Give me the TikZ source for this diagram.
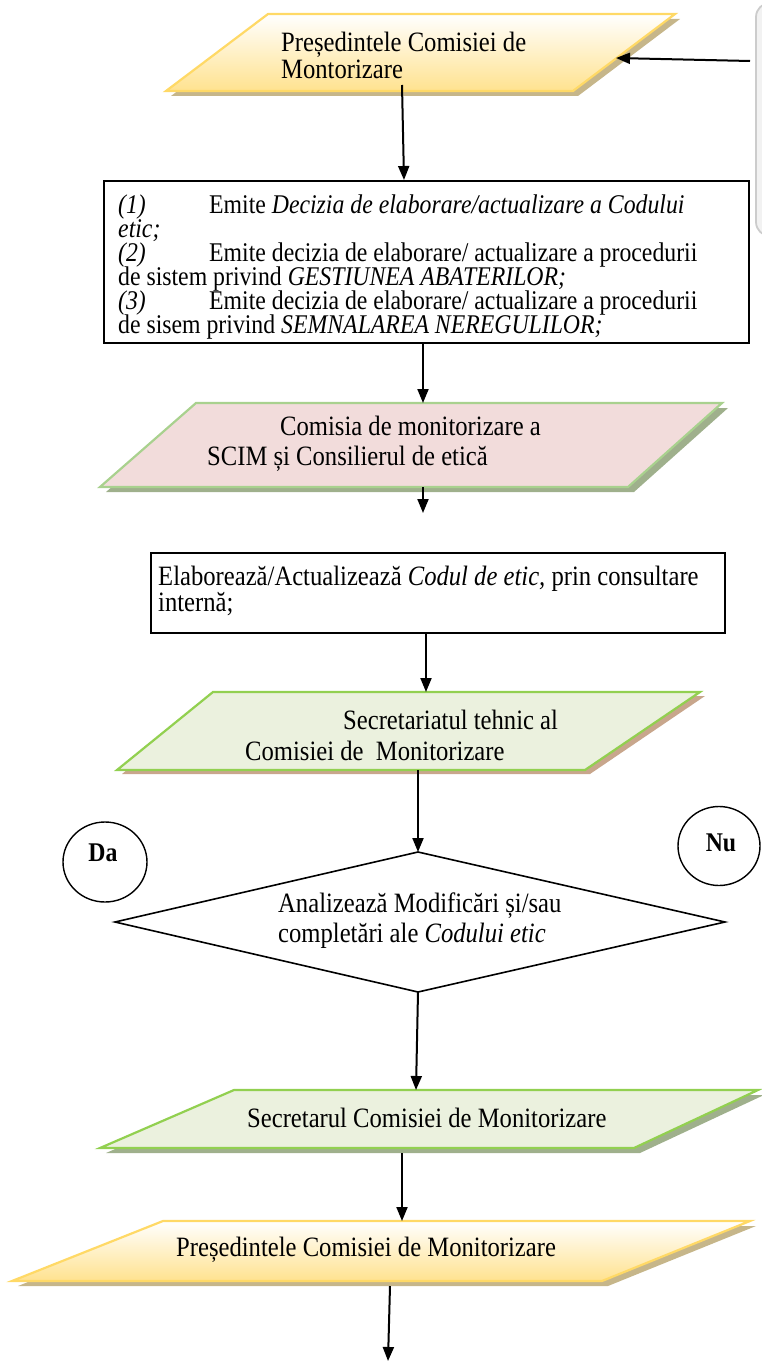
\documentclass[tikz,border=0pt]{standalone}
\usepackage{fontspec}
\setmainfont{Liberation Serif}[FakeStretch=0.88]
\usetikzlibrary{arrows.meta,shapes.geometric}
\definecolor{yelB}{HTML}{FFD966}
\definecolor{yelF}{HTML}{FFE28F}
\definecolor{yelS}{HTML}{C6B68A}
\definecolor{pinkF}{HTML}{F2DCDB}
\definecolor{grnB}{HTML}{92D050}
\definecolor{grnB2}{HTML}{A9D18E}
\definecolor{grnF}{HTML}{EBF1DE}
\definecolor{grnS}{HTML}{9FB08C}
\definecolor{brnS}{HTML}{C8A68C}
\newcommand\mytightls{\lineskiplimit=-100pt\relax\lineskip=0pt\relax}
\tikzset{
  para/.style={line width=2.2pt, line join=miter},
  arr/.style={line width=2pt, -{Triangle[length=14pt,width=11pt]}},
  txt/.style={font=\fontsize{28}{28}\selectfont\mytightls, align=left, inner sep=0pt},
  lead/.style={font=\fontsize{28}{#1}\selectfont\mytightls},
  boxst/.style={draw=black, line width=1.6pt, fill=white},
  circ/.style={draw=black, line width=1.4pt, ellipse, inner sep=0pt}
}
\begin{document}
\begin{tikzpicture}[x=1pt,y=-1pt]
\useasboundingbox (0,0) rectangle (762,1362);
% right gray frame
\begin{scope}
\clip (0,0) rectangle (762,1362);
\draw[gray!40, fill=gray!10, line width=1.8pt, rounded corners=14pt] (756,3) rectangle (830,236);
\end{scope}

% Shape 1 : yellow
\fill[yelS] (273,19) -- (680,19) -- (578,96) -- (171,96) -- cycle;
\path[para, draw=yelB, top color=white, bottom color=yelF] (268,14) -- (675,14) -- (573,91) -- (166,91) -- cycle;
\node[txt, lead=27, anchor=west] (t1) at (281,55) {Președintele Comisiei de\\Montorizare};
\coordinate (s1b) at (402,85);
\coordinate (s1r) at (616,58);
\coordinate (frm) at (750,61);

% Box 2
\node[boxst, minimum width=645pt, minimum height=162pt, anchor=north west] (b2) at (103,180) {};
\node[txt, font=\fontsize{27}{24}\selectfont\mytightls, anchor=west] (t2) at (118,267) {%
\makebox[91pt][l]{\textit{(1)}}Emite \textit{Decizia de elaborare/actualizare a Codului}\\
\textit{etic;}\\
\makebox[91pt][l]{\textit{(2)}}Emite decizia de elaborare/ actualizare a procedurii\\
de sistem privind \textit{GESTIUNEA ABATERILOR;}\\
\makebox[91pt][l]{\textit{(3)}}Emite decizia de elaborare/ actualizare a procedurii\\
de sisem privind \textit{SEMNALAREA NEREGULILOR;}};

% Shape 3 : pink
\fill[grnS] (202,408) -- (728,408) -- (634,492) -- (106,492) -- cycle;
\path[para, draw=grnB2, fill=pinkF] (196,403) -- (722,403) -- (628,487) -- (100,487) -- cycle;
\node[txt, lead=30, anchor=west] (t3) at (207,444) {\hspace*{73pt}Comisia de monitorizare a\\SCIM și Consilierul de etică};
\coordinate (s3t) at (423,403);
\coordinate (s3b) at (423,487);
\coordinate (s3e) at (423,513);

% Box 4
\node[boxst, minimum width=574pt, minimum height=80pt, anchor=north west] (b4) at (150,552) {};
\node[txt, lead=26, anchor=west] (t4) at (158,591) {Elaborează/Actualizează \textit{Codul de etic,} prin consultare\\internă;};

% Shape 5 : green
\fill[brnS] (218,696) -- (705,696) -- (590,774) -- (122,774) -- cycle;
\path[para, draw=grnB, fill=grnF] (213,692) -- (700,692) -- (585,770) -- (117,770) -- cycle;
\node[txt, lead=31, anchor=west] (t5) at (245,735) {\hspace*{98pt}Secretariatul tehnic al\\Comisiei de\ \ Monitorizare};
\coordinate (s5t) at (426,692);
\coordinate (s5b) at (418,770);

% Diamond
\path[draw=black, line width=1.6pt, fill=white] (418,852) -- (725,922) -- (418,992) -- (115,922) -- cycle;
\coordinate (dt) at (418,852);
\coordinate (db) at (418,992);
\node[txt, lead=30, anchor=west] (t6) at (278,921) {Analizează Modificări și/sau\\completări ale \textit{Codului etic}};

% Da / Nu
\node[circ, minimum width=84pt, minimum height=80pt] (da) at (105,862) {};
\node[txt, font=\fontsize{27}{27}\selectfont\bfseries] (dat) at (103,853) {Da};
\node[circ, minimum width=82pt, minimum height=79pt] (nu) at (719,846) {};
\node[txt, font=\fontsize{27}{27}\selectfont\bfseries] (nut) at (721,843) {Nu};

% Shape 7 : green
\fill[grnS] (240,1095) -- (764,1095) -- (640,1153) -- (106,1153) -- cycle;
\path[para, draw=grnB, fill=grnF] (234,1090) -- (758,1090) -- (634,1148) -- (100,1148) -- cycle;
\node[txt, anchor=west] (t7) at (247,1118) {Secretarul Comisiei de Monitorizare};
\coordinate (s7t) at (416,1090);
\coordinate (s7b) at (402,1153);

% Shape 8 : yellow
\fill[yelS] (169,1226) -- (756,1226) -- (608,1286) -- (18,1286) -- cycle;
\path[para, draw=yelB, top color=white, bottom color=yelF] (163,1221) -- (750,1221) -- (602,1281) -- (12,1281) -- cycle;
\node[txt, anchor=west] (t8) at (176,1250) {Președintele Comisiei de Monitorizare};
\coordinate (s8t) at (402,1221);
\coordinate (s8b) at (390,1286);
\coordinate (endp) at (388,1361);

% Arrows
\draw[arr] (frm) -- (s1r);
\draw[arr] (s1b) -- (b2.north -| 404,0);
\draw[arr] (b2.south -| s3t) -- (s3t);
\draw[arr] (s3b) -- (s3e);
\draw[arr] (b4.south -| s5t) -- (s5t);
\draw[arr] (s5b) -- (dt);
\draw[arr] (db) -- (s7t);
\draw[arr] (s7b) -- (s8t);
\draw[arr] (s8b) -- (endp);
\end{tikzpicture}
\end{document}
